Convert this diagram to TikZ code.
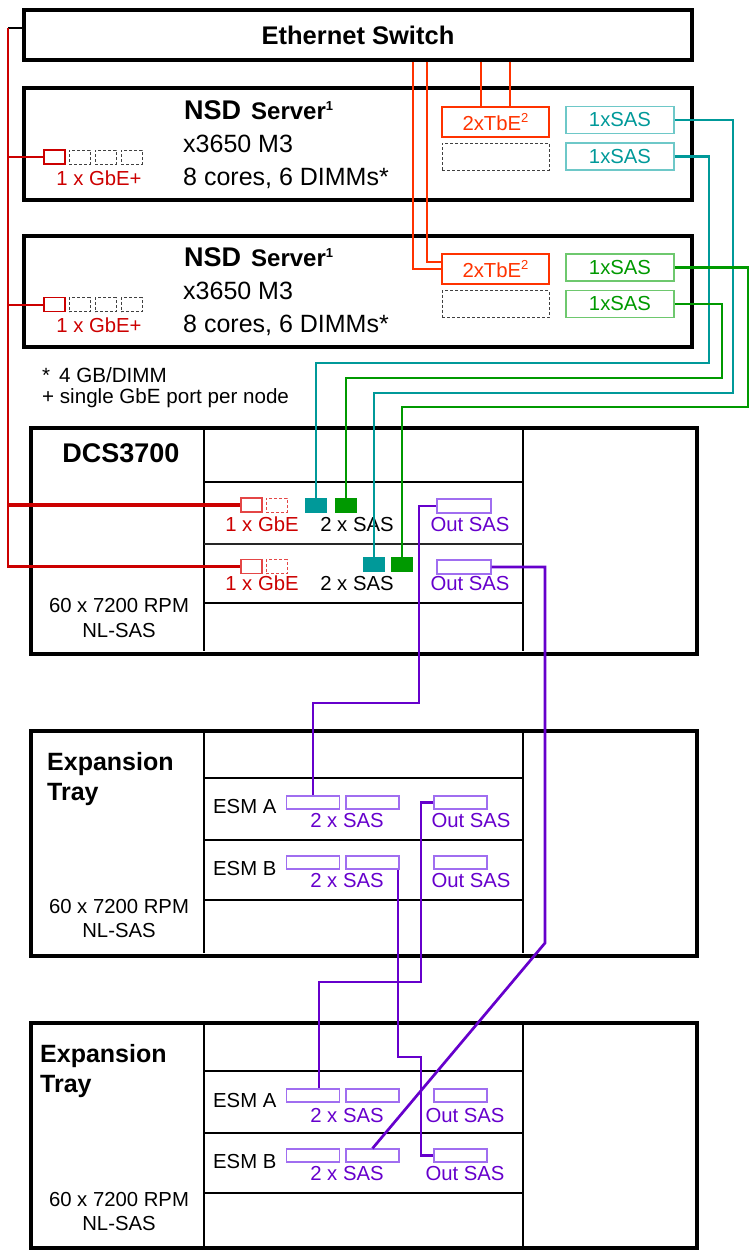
\documentclass[tikz,border=0pt]{standalone}
\usepackage{fontspec}
\setmainfont{Liberation Sans}
\usetikzlibrary{calc}

\definecolor{gbered}{RGB}{204,0,0}
\definecolor{gbelite}{RGB}{228,70,70}
\definecolor{tbeorange}{RGB}{255,51,0}
\definecolor{sasteal}{RGB}{0,153,153}
\definecolor{tealbox}{RGB}{110,200,200}
\definecolor{sasgreen}{RGB}{0,153,0}
\definecolor{greenbox}{RGB}{110,200,110}
\definecolor{saspurple}{RGB}{102,0,204}
\definecolor{purplebox}{RGB}{160,110,240}

\newcommand{\fs}[1]{\fontsize{#1}{#1}\selectfont}

\tikzset{
  shelf/.style={draw, line width=3.3pt, inner sep=0pt},
  inner/.style={line width=2pt},
  txt/.style={inner sep=0pt, anchor=base},
  txtw/.style={inner sep=0pt, anchor=base west},
  port/.style={draw, line width=1.2pt, inner sep=0pt},
  dashport/.style={draw=black!75, line width=0.9pt, dash pattern=on 3pt off 2pt, inner sep=0pt},
  gbeport/.style={port, draw=gbered, minimum width=21pt, minimum height=14pt},
  gbedash/.style={dashport, minimum width=21pt, minimum height=14pt},
  tbeport/.style={port, draw=tbeorange, text=tbeorange, minimum width=107pt, minimum height=30pt},
  emptyslot/.style={dashport, minimum width=107pt, minimum height=27pt},
  tealport/.style={port, draw=tealbox, text=sasteal, minimum width=108pt, minimum height=27pt},
  greenport/.style={port, draw=greenbox, text=sasgreen, minimum width=108pt, minimum height=27pt},
  purpleport/.style={port, draw=purplebox, minimum width=53pt, minimum height=13pt},
  ctrlgbe/.style={port, draw=gbelite, minimum width=21pt, minimum height=14pt},
  ctrldash/.style={draw=gbelite, line width=0.9pt, dash pattern=on 3pt off 2pt, inner sep=0pt, minimum width=21pt, minimum height=14pt},
  ctrlsas/.style={inner sep=0pt, minimum width=22pt, minimum height=15pt},
  gbeline/.style={gbered, line width=2.7pt},
  gbethin/.style={gbered, line width=2pt},
  gbethick/.style={gbered, line width=3.6pt},
  tbeline/.style={tbeorange, line width=2.3pt},
  tealline/.style={sasteal, line width=2.2pt},
  greenline/.style={sasgreen, line width=2.5pt},
  purpleline/.style={saspurple, line width=2.7pt}
}

\begin{document}
\begin{tikzpicture}[x=1pt, y=-1pt, font=\fs{20.3}]
  \useasboundingbox (0,0) rectangle (751,1250);

  % switch
  \node[shelf, minimum width=668pt, minimum height=50pt] (sw) at (358,35) {\fs{25.5}\bfseries Ethernet Switch};

  % NSD servers
  \node[shelf, minimum width=668pt, minimum height=112pt] (srvA) at (358,144) {};
  \node[shelf, minimum width=668pt, minimum height=111pt] (srvB) at (358,291.5) {};

  \node[txtw] at (184,119) {{\fs{27}\bfseries NSD}\hspace{10pt}{\fs{24}\bfseries Server}\raisebox{9pt}{\fs{13}\bfseries 1}};
  \node[txtw] at (183,152) {\fs{25}x3650 M3};
  \node[txtw] at (183,185) {\fs{25}8 cores, 6 DIMMs*};
  \node[txtw] at (184,266.5) {{\fs{27}\bfseries NSD}\hspace{10pt}{\fs{24}\bfseries Server}\raisebox{9pt}{\fs{13}\bfseries 1}};
  \node[txtw] at (183,299.5) {\fs{25}x3650 M3};
  \node[txtw] at (183,332.5) {\fs{25}8 cores, 6 DIMMs*};

  % server GbE ports
  \node[gbeport] (srvAgbe) at (54.5,157) {};
  \node[gbedash] at (79.5,157) {};
  \node[gbedash] at (105.5,157) {};
  \node[gbedash] at (131.5,157) {};
  \node[txt, text=gbered] at (99,185) {1 x GbE+};
  \node[gbeport] (srvBgbe) at (54.5,304.5) {};
  \node[gbedash] at (79.5,304.5) {};
  \node[gbedash] at (105.5,304.5) {};
  \node[gbedash] at (131.5,304.5) {};
  \node[txt, text=gbered] at (99,332.5) {1 x GbE+};

  % server TbE and SAS adapters
  \node[tbeport] (tbeA) at (495.5,122) {2xTbE\raisebox{8pt}{\fs{13}2}};
  \node[emptyslot] at (495.5,156.5) {};
  \node[tealport] (sasA1) at (620,120) {1xSAS};
  \node[tealport] (sasA2) at (620,156.5) {1xSAS};
  \node[tbeport] (tbeB) at (495.5,269) {2xTbE\raisebox{8pt}{\fs{13}2}};
  \node[emptyslot] at (495.5,304) {};
  \node[greenport] (sasB1) at (620,267.5) {1xSAS};
  \node[greenport] (sasB2) at (620,304) {1xSAS};

  % footnotes
  \node[txtw] at (42,382) {\fs{20.6}*\hspace{9pt}4 GB/DIMM};
  \node[txtw] at (42,403) {\fs{20.6}+ single GbE port per node};

  % DCS3700 shelf
  \node[shelf, minimum width=666pt, minimum height=226pt] (dcs) at (364,541) {};
  \draw[inner] (204,430) -- (204,651);
  \draw[inner] (523,430) -- (523,651);
  \draw[inner] (204,482) -- (523,482);
  \draw[inner, black!85] (204,544) -- (523,544);
  \draw[inner] (204,603) -- (523,603);
  \node[txt] at (121,462) {\fs{27}\bfseries DCS3700};
  \node[txt] at (119,612) {60 x 7200 RPM};
  \node[txt] at (119,637) {NL-SAS};

  \node[ctrlgbe] (dcsGbe1) at (251.5,505) {};
  \node[ctrldash] at (276.5,505) {};
  \node[ctrlsas, fill=sasteal] (dcsTeal1) at (316,505.5) {};
  \node[ctrlsas, fill=sasgreen] (dcsGrn1) at (346,505.5) {};
  \node[purpleport, minimum width=54pt, minimum height=14pt] (dcsOut1) at (464,506) {};
  \node[txt, text=gbered] at (262,531) {1 x GbE};
  \node[txt] at (357,531) {2 x SAS};
  \node[txt, text=saspurple] at (470,531) {Out SAS};

  \node[ctrlgbe] (dcsGbe2) at (251.5,566.5) {};
  \node[ctrldash] at (276.5,566.5) {};
  \node[ctrlsas, fill=sasteal] (dcsTeal2) at (374,564.5) {};
  \node[ctrlsas, fill=sasgreen] (dcsGrn2) at (402,564.5) {};
  \node[purpleport, minimum width=54pt, minimum height=14pt] (dcsOut2) at (464,567) {};
  \node[txt, text=gbered] at (262,590) {1 x GbE};
  \node[txt] at (357,590) {2 x SAS};
  \node[txt, text=saspurple] at (470,590) {Out SAS};

  % expansion tray 1
  \node[shelf, minimum width=666pt, minimum height=225pt] (trayA) at (364,843.5) {};
  \draw[inner] (204,733) -- (204,953);
  \draw[inner] (523,733) -- (523,953);
  \draw[inner] (204,778) -- (523,778);
  \draw[inner] (204,840) -- (523,840);
  \draw[inner] (204,900) -- (523,900);
  \node[txtw] at (47,770) {\fs{25}\bfseries Expansion};
  \node[txtw] at (47,800) {\fs{25}\bfseries Tray};
  \node[txt] at (119,913) {60 x 7200 RPM};
  \node[txt] at (119,937) {NL-SAS};

  \node[txtw] at (213,813) {ESM A};
  \node[purpleport] (eAa1) at (313,802.5) {};
  \node[purpleport] (eAa2) at (372.5,802.5) {};
  \node[purpleport] (eAaOut) at (460.5,802.5) {};
  \node[txt, text=saspurple] at (347,827) {2 x SAS};
  \node[txt, text=saspurple] at (471,827) {Out SAS};
  \node[txtw] at (213,875) {ESM B};
  \node[purpleport] (eAb1) at (313,862.5) {};
  \node[purpleport] (eAb2) at (372.5,862.5) {};
  \node[purpleport] (eAbOut) at (460.5,862.5) {};
  \node[txt, text=saspurple] at (347,887) {2 x SAS};
  \node[txt, text=saspurple] at (471,887) {Out SAS};

  % expansion tray 2
  \node[shelf, minimum width=666pt, minimum height=225pt] (trayB) at (364,1135.5) {};
  \draw[inner] (204,1025) -- (204,1246);
  \draw[inner] (523,1025) -- (523,1246);
  \draw[inner] (204,1071) -- (523,1071);
  \draw[inner] (204,1133) -- (523,1133);
  \draw[inner] (204,1193) -- (523,1193);
  \node[txtw] at (40,1062) {\fs{25}\bfseries Expansion};
  \node[txtw] at (40,1092) {\fs{25}\bfseries Tray};
  \node[txt] at (119,1206) {60 x 7200 RPM};
  \node[txt] at (119,1230) {NL-SAS};

  \node[txtw] at (213,1107) {ESM A};
  \node[purpleport] (eBa1) at (313,1095.5) {};
  \node[purpleport] (eBa2) at (372.5,1095.5) {};
  \node[purpleport] (eBaOut) at (460.5,1095.5) {};
  \node[txt, text=saspurple] at (347,1122) {2 x SAS};
  \node[txt, text=saspurple] at (465,1122) {Out SAS};
  \node[txtw] at (213,1168) {ESM B};
  \node[purpleport] (eBb1) at (313,1155.5) {};
  \node[purpleport] (eBb2) at (372.5,1155.5) {};
  \node[purpleport] (eBbOut) at (460.5,1155.5) {};
  \node[txt, text=saspurple] at (347,1180) {2 x SAS};
  \node[txt, text=saspurple] at (465,1180) {Out SAS};

  % GbE management bus
  \coordinate (bus) at (8,28);
  \draw[line width=2pt] (bus) -- (bus -| sw.west);
  \draw[gbeline] (bus) |- (dcsGbe2.west);
  \draw[gbethin] (bus |- srvAgbe.west) -- (srvAgbe.west);
  \draw[gbethin] (bus |- srvBgbe.west) -- (srvBgbe.west);
  \draw[gbethick] (bus |- dcsGbe1.west) -- (dcsGbe1.west);
  \draw[gbethick] (bus |- dcsGbe2.west) -- (dcsGbe2.west);

  % TbE uplinks
  \coordinate (upA1) at ([xshift=123pt]sw.south);
  \coordinate (upA2) at ([xshift=152pt]sw.south);
  \draw[tbeline] (upA1) -- (upA1 |- tbeA.north);
  \draw[tbeline] (upA2) -- (upA2 |- tbeA.north);
  \draw[tbeline] ([xshift=55pt]sw.south) |- (tbeB.west);
  \draw[tbeline] ([xshift=69pt]sw.south) |- ([yshift=7pt]tbeB.west);

  % SAS host links
  \draw[tealline] (sasA1.east) -| (733,393) -| (dcsTeal2.north);
  \draw[tealline] (sasA2.east) -| (709,363) -| (dcsTeal1.north);
  \draw[greenline] (sasB1.east) -| (748,407) -| (dcsGrn2.north);
  \draw[greenline] (sasB2.east) -| (722,378) -| (dcsGrn1.north);

  % SAS expansion cabling
  \draw[purpleline] (dcsOut1.west) -| (419,703) -| (eAa1.north);
  \draw[purpleline] (dcsOut2.east) -| (545,943) -- (eBb2.north);
  \draw[purpleline] (eAaOut.west) -| (421,982) -| ([xshift=6pt]eBa1.north);
  \draw[purpleline] ([xshift=-1.5pt]eAb2.south east) |- (421,1057) |- (eBbOut.west);
\end{tikzpicture}
\end{document}
